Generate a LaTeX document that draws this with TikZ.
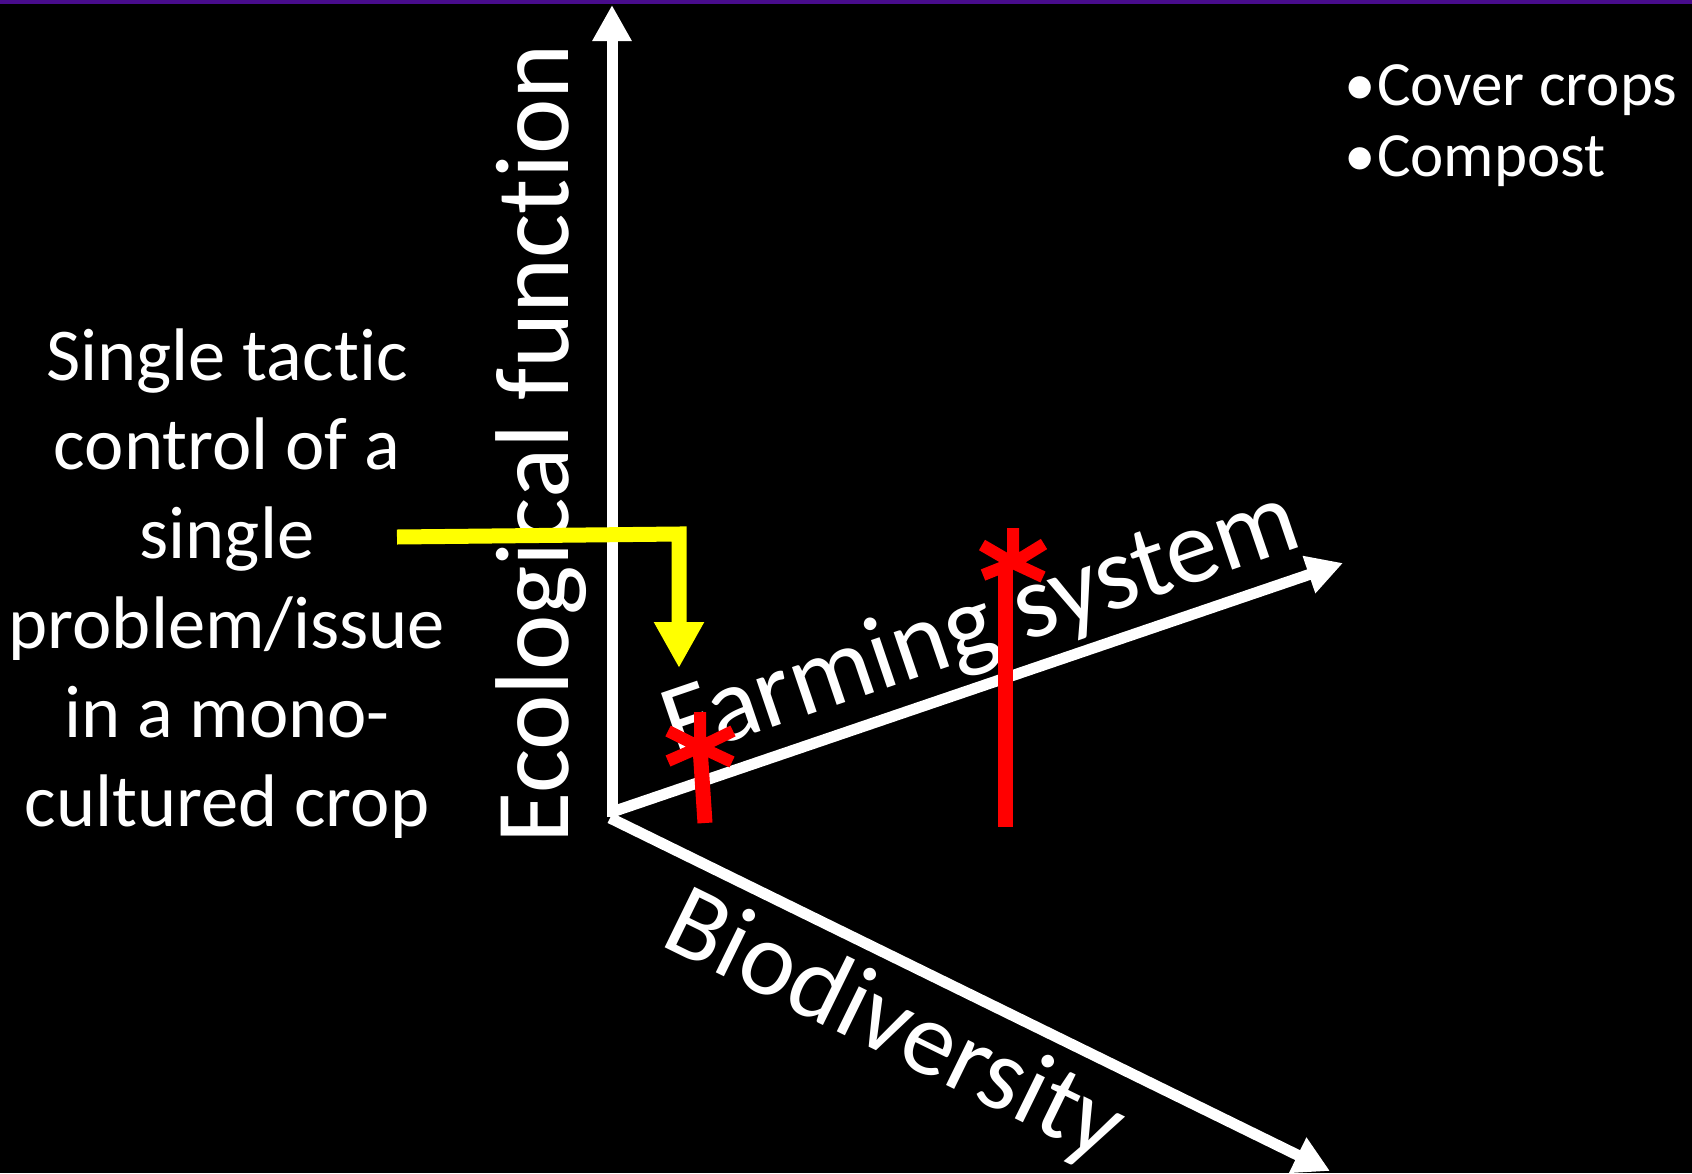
\documentclass[tikz,border=0pt]{standalone}
\usepackage{fontspec}
\setmainfont{Carlito}[Ligatures={NoCommon}]
\usetikzlibrary{arrows.meta}
\definecolor{topband}{RGB}{72,12,140}
\definecolor{hiyellow}{RGB}{255,255,0}
\definecolor{hired}{RGB}{255,0,0}
\begin{document}
\begin{tikzpicture}[x=1pt,y=-1pt,
  axis/.style={draw=white,line width=11pt,-{Triangle[length=36pt,width=37pt]}},
  axislabel/.style={text=white,inner sep=0pt,font=\fontsize{105}{128}\selectfont},
  sidetext/.style={text=white,inner sep=0pt,anchor=base,font=\fontsize{74.5}{90}\selectfont},
  listtext/.style={text=white,inner sep=0pt,anchor=base west,font=\fontsize{63}{76}\selectfont},
  pointer/.style={draw=hiyellow,line width=15pt,line join=miter,-{Triangle[length=46pt,width=47pt]}},
  redbar/.style={draw=hired,line width=15pt},
  redarm/.style={draw=hired,line width=12pt}
]
\useasboundingbox[fill=black] (0,0) rectangle (1692,1173);
\fill[topband] (0,0) rectangle (1692,4);

% axes
\coordinate (O) at (612,817);
\coordinate (ytip) at (612,5);
\coordinate (Ofarm) at (612,812);
\coordinate (ftip) at (1343,563);
\coordinate (Obio) at (610,818);
\coordinate (btip) at (1330,1171);
\draw[axis] (O) -- (ytip);
\draw[axis] (Ofarm) -- (ftip);
\draw[axis] (Obio) -- (btip);

% axis labels
\node[axislabel,rotate=90,anchor=base west] (ecol) at (568,844) {Ecological function};
\node[axislabel,rotate=18.8,anchor=base west] (farm) at (676,760) {Farming system};
\node[axislabel,rotate=-26.1,anchor=base west] (bio) at (658,944) {Biodiversity};

% left description
\node[sidetext] (l1) at (227,380) {Single tactic};
\node[sidetext] (l2) at (227,469) {control of a};
\node[sidetext] (l3) at (227,558) {single};
\node[sidetext] (l4) at (227,648) {problem/issue};
\node[sidetext] (l5) at (227,737) {in a mono-};
\node[sidetext] (l6) at (227,826) {cultured crop};

% list
\node[listtext] (b1) at (1344,105) {•};
\node[listtext] (t1) at (1377,105) {Cover crops};
\node[listtext] (b2) at (1344,176) {•};
\node[listtext] (t2) at (1377,176) {Compost};

% yellow pointer
\coordinate (ystart) at (397,537);
\coordinate (ycorner) at (679,534);
\coordinate (yend) at (679,668);
\draw[pointer] (ystart) -- (ycorner) -- (yend);

% red markers
\coordinate (s1) at (700,747);
\coordinate (s1bot) at (705,823);
\draw[redbar] (s1) -- (s1bot);
\draw[redarm] (s1) -- ++(0,-35) (s1) -- ++(33,-16) (s1) -- ++(32,15) (s1) -- ++(-32,-16) (s1) -- ++(-32,14);

\coordinate (s2) at (1013,563);
\coordinate (s2top) at (1005,563);
\coordinate (s2bot) at (1005,827);
\draw[redbar] (s2top) -- (s2bot);
\draw[redarm] (s2) -- ++(0,-35) (s2) -- ++(31,-19) (s2) -- ++(30,14) (s2) -- ++(-31,-18) (s2) -- ++(-30,12);
\end{tikzpicture}
\end{document}
